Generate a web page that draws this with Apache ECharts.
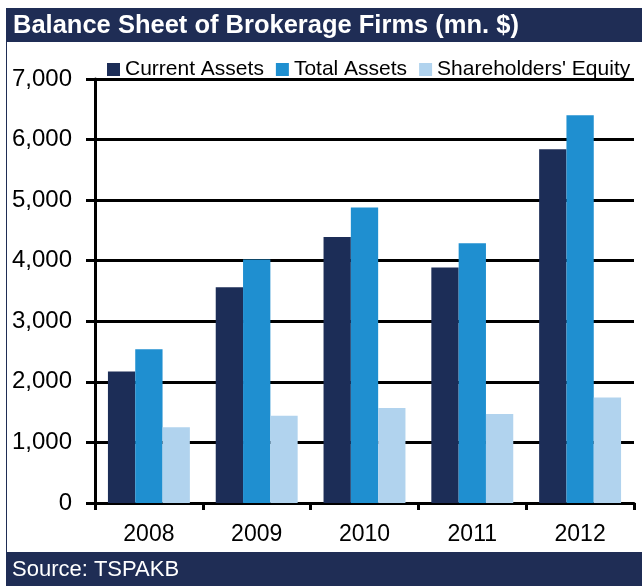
<!DOCTYPE html>
<html>
<head>
<meta charset="utf-8">
<script src="https://cdn.jsdelivr.net/npm/echarts@6/dist/echarts.min.js"></script>
<style>
  html, body { margin: 0; padding: 0; background: #fff; }
  #chart { width: 642px; height: 586px; }
</style>
</head>
<body>
<div id="chart"></div>
<script>
// data
var years = ['2008', '2009', '2010', '2011', '2012'];
var currentAssets = [2170, 3560, 4390, 3890, 5840];
var totalAssets = [2540, 4020, 4880, 4290, 6400];
var equity = [1250, 1440, 1570, 1470, 1740];

var navy = '#1f2d55';
var font = 'Liberation Sans';

var chart = echarts.init(document.getElementById('chart'));

chart.setOption({
    animation: false,
    textStyle: { fontFamily: font },
    color: ['#1c2d57', '#1f8fd0', '#b1d3ee'],
    graphic: [
        // title band
        { type: 'rect', left: 6, top: 8, shape: { width: 636, height: 34 }, style: { fill: navy }, z: 0 },
        { type: 'text', x: 13, y: 26, style: { text: 'Balance Sheet of Brokerage Firms (mn. $)', fill: '#fff', font: 'bold 25.5px ' + font, textVerticalAlign: 'middle' }, z: 1 },
        // left frame line
        { type: 'rect', left: 6, top: 42, shape: { width: 1, height: 510 }, style: { fill: navy }, z: 0 },
        // source band
        { type: 'rect', left: 6, top: 552, shape: { width: 636, height: 34 }, style: { fill: navy }, z: 0 },
        { type: 'text', x: 12, y: 570, style: { text: 'Source: TSPAKB', fill: '#fff', font: '22px ' + font, textVerticalAlign: 'middle' }, z: 1 }
    ],
    legend: {
        left: 102,
        top: 54,
        icon: 'rect',
        itemWidth: 13,
        itemHeight: 13,
        itemGap: 12,
        textStyle: { fontSize: 21, color: '#000', fontFamily: font, padding: [0, 0, 0, 0] },
        data: ['Current Assets', 'Total Assets', "Shareholders' Equity"]
    },
    grid: { left: 95, right: 8, top: 79, bottom: 83, containLabel: false },
    xAxis: {
        type: 'category',
        data: years,
        axisLine: { lineStyle: { color: '#000', width: 3 } },
        axisTick: { show: true, length: 7, lineStyle: { color: '#000', width: 3 } },
        axisLabel: { color: '#000', fontSize: 23, margin: 20, fontFamily: font }
    },
    yAxis: {
        type: 'value',
        min: 0,
        max: 7000,
        interval: 1000,
        axisLine: { show: true, lineStyle: { color: '#000', width: 3 } },
        axisTick: { show: true, length: 9, lineStyle: { color: '#000', width: 3 } },
        splitLine: { show: true, lineStyle: { color: '#000', width: 3 } },
        axisLabel: {
            color: '#000', fontSize: 24, margin: 23, fontFamily: font,
            formatter: function (v) { return v.toLocaleString('en-US'); }
        }
    },
    series: [
        { name: 'Current Assets', type: 'bar', data: currentAssets, barGap: '0%', barCategoryGap: '24%' },
        { name: 'Total Assets', type: 'bar', data: totalAssets, barGap: '0%', barCategoryGap: '24%' },
        { name: "Shareholders' Equity", type: 'bar', data: equity, barGap: '0%', barCategoryGap: '24%' }
    ]
});
</script>
</body>
</html>
